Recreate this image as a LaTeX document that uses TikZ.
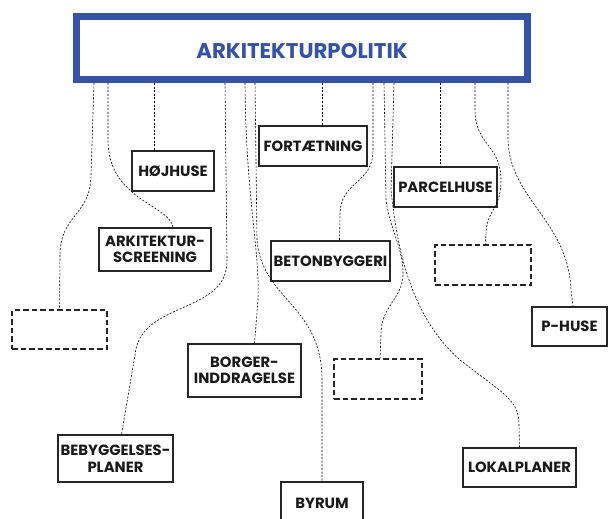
\documentclass[tikz,border=0pt]{standalone}
\usepackage{fontspec}
\setmainfont{Poppins}
\definecolor{politikblue}{HTML}{3553A6}
\tikzset{
  topic/.style={draw=black!85, line width=1.1pt, align=center, inner sep=0pt, text=black!90, font=\bfseries\fontsize{14.8}{16.5}\selectfont},
  blank/.style={draw=black!85, line width=1.1pt, dash pattern=on 5.5pt off 3pt, inner sep=0pt},
  link/.style={black, line width=0.6pt, dash pattern=on 2pt off 1.6pt}
}

\begin{document}
\begin{tikzpicture}[x=1pt,y=-1pt]
\useasboundingbox (0,0) rectangle (608,519);
\node[draw=politikblue, line width=7pt, minimum width=451, minimum height=63, inner sep=0pt, text height=20.5pt, text depth=0pt, text=politikblue, font=\bfseries\fontsize{21.3}{21.3}\selectfont] (politik) at (302,48) {ARKITEKTURPOLITIK};

\node[topic, minimum width=82, minimum height=40] (hojhuse) at (173,171) {HØJHUSE};
\node[topic, minimum width=112, minimum height=43] (screening) at (155,249.5) {ARKITEKTUR-\\SCREENING};
\node[topic, minimum width=108, minimum height=40] (fortaetning) at (313,146) {FORTÆTNING};
\node[topic, minimum width=103, minimum height=40] (parcelhuse) at (445.5,187) {PARCELHUSE};
\node[topic, minimum width=119, minimum height=40] (beton) at (330.5,261) {BETONBYGGERI};
\node[blank, minimum width=96, minimum height=40] (rblank) at (483,265) {};
\node[blank, minimum width=95, minimum height=39] (lblank) at (59.5,329.5) {};
\node[topic, minimum width=113, minimum height=53] (borger) at (244.5,370.5) {BORGER-\\INDDRAGELSE};
\node[blank, minimum width=88, minimum height=40] (mblank) at (378,379) {};
\node[topic, minimum width=75, minimum height=39] (phuse) at (569.5,326.5) {P-HUSE};
\node[topic, minimum width=115, minimum height=47] (bebyggelse) at (115.5,458.5) {BEBYGGELSES-\\PLANER};
\node[topic, minimum width=113, minimum height=39] (lokalplaner) at (519.5,467.5) {LOKALPLANER};
\node[topic, minimum width=82, minimum height=42] (byrum) at (322,503) {BYRUM};

\foreach \n/\dx in {1/-208, 2/-194, 3/-148, 4/-77, 5/-57, 6/-47, 7/20, 8/71, 9/82, 10/92, 11/138, 12/173, 13/206}
  \coordinate (s\n) at ([xshift=\dx]politik.south);

\draw[link] (s1) -- (91,175) .. controls (91,215) and (60,215) .. (60,255) -- (lblank.north);
\draw[link] (s2) -- (108,140) .. controls (108,200) and (170,205) .. ([xshift=18]screening.north);
\draw[link] (s3) -- ([xshift=-19]hojhuse.north);
\draw[link] (s4) -- (227,260) .. controls (228,315) and (140,300) .. (135,355) -- ([xshift=6]bebyggelse.north);
\draw[link] (s5) .. controls (246,200) and (260,250) .. (258,300) -- ([xshift=10]borger.north);
\draw[link] (s6) -- (257,240) .. controls (262,300) and (322,305) .. (322,380) -- (byrum.north);
\draw[link] (s7) -- ([xshift=9]fortaetning.north);
\draw[link] (s8) -- (373,150) .. controls (373,185) and (340,180) .. (340,215) -- ([xshift=9]beton.north);
\draw[link] (s9) -- (386,200) .. controls (390,230) and (404,250) .. (403,275) .. controls (402,300) and (381,305) .. (381,335) -- ([xshift=2]mblank.north);
\draw[link] (s10) -- (391,190) .. controls (398,260) and (415,320) .. (460,360) .. controls (505,395) and (519,400) .. (519,425) -- (lokalplaner.north);
\draw[link] (s11) -- ([xshift=-5.5]parcelhuse.north);
\draw[link] (s12) -- (475,110) .. controls (475,145) and (501,145) .. (501,180) .. controls (501,210) and (486,210) .. (486,235) -- ([xshift=2]rblank.north);
\draw[link] (s13) -- (508,140) .. controls (510,200) and (568,220) .. (571,290) -- ([xshift=3.5]phuse.north);
\end{tikzpicture}
\end{document}
